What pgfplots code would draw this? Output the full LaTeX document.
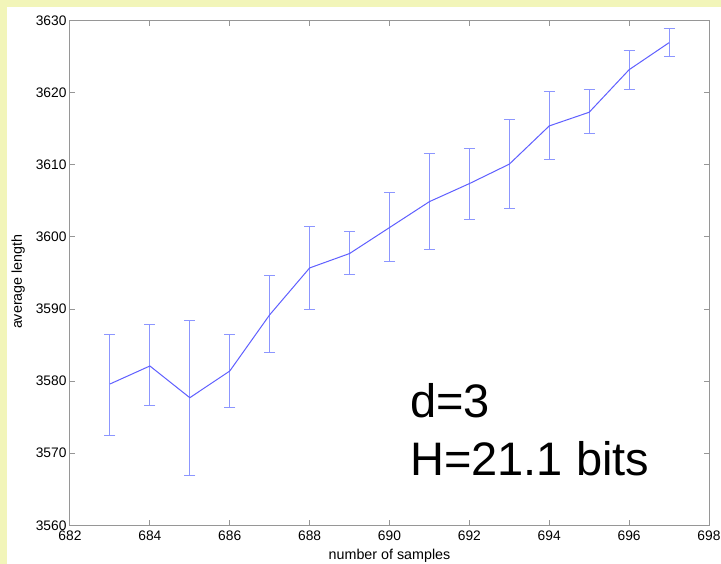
\documentclass[border=0pt]{standalone}
\usepackage{fontspec}
\setmainfont{Liberation Sans}
\usepackage{pgfplots}
\pgfplotsset{compat=1.18}
\usepackage{pgfplotstable}

\definecolor{bgyellow}{RGB}{242,245,185}
\definecolor{axgray}{RGB}{150,150,150}
\definecolor{lineblue}{RGB}{95,95,255}
\definecolor{barblue}{RGB}{140,150,255}

% x, mean, error up, error down
\pgfplotstableread{
x   y       ep    em
683 3579.6  6.9   7.1
684 3582.1  5.7   5.5
685 3577.7  10.7  10.8
686 3581.4  5.1   5.1
687 3589.2  5.4   5.2
688 3595.7  5.7   5.8
689 3597.7  3.0   2.9
690 3601.3  4.8   4.7
691 3604.9  6.7   6.7
692 3607.4  4.9   5.0
693 3610.1  6.2   6.1
694 3615.4  4.8   4.7
695 3617.3  3.1   2.9
696 3623.2  2.7   2.8
697 3626.95 1.9   1.85
}\lengthdata

\begin{document}
\begin{tikzpicture}
  \fill[bgyellow] (-70pt,-38.7pt) rectangle (651pt,525.3pt);
  \fill[white] (-63pt,-38.7pt) rectangle (651pt,518.3pt);
  \begin{axis}[at={(0pt,0pt)}, anchor=south west,
    scale only axis, width=639pt, height=504.6pt,
    xmin=682, xmax=698, ymin=3560, ymax=3630,
    xtick distance=2, ytick distance=10,
    tick align=inside, major tick length=5pt,
    axis line style={axgray, line width=1pt},
    major tick style={axgray, line width=1pt},
    ticklabel style={font=\fontsize{13.8}{16}\selectfont, black},
    /pgf/number format/assume math mode=true,
    /pgf/number format/1000 sep={},
    xticklabel style={yshift=-2pt},
    xlabel={number of samples}, ylabel={average length},
    label style={font=\fontsize{14.3}{17}\selectfont},
    xlabel style={at={(axis description cs:0.5,0)}, anchor=base, yshift=-34.2pt},
    ylabel style={at={(axis description cs:0,0.4828)}, anchor=base, yshift=48pt}]
    \addplot[barblue, line width=1pt, draw=none, forget plot,
      error bars/.cd, y dir=both, y explicit,
      error bar style={barblue, line width=1pt, solid},
      error mark options={rotate=90, barblue, line width=1pt, mark size=5.5pt}]
      table[x=x, y=y, y error plus=ep, y error minus=em] {\lengthdata};
    \addplot[lineblue, line width=1pt, mark=none]
      table[x=x, y=y] {\lengthdata};
  \end{axis}
  \node[anchor=base west, inner sep=0pt, font=\fontsize{47}{56}\selectfont] at (340pt,107.3pt) {d=3};
  \node[anchor=base west, inner sep=0pt, font=\fontsize{47}{56}\selectfont] at (340pt,49.3pt) {H=21.1 bits};
  \pgfresetboundingbox
  \path (-70pt,-38.7pt) rectangle (651pt,525.3pt);
\end{tikzpicture}
\end{document}
